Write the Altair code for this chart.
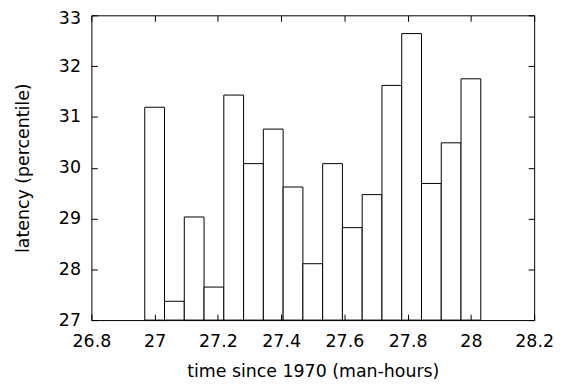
import altair as alt
import pandas as pd

# Bin centres (time since 1970, man-hours) and bar heights (latency percentile)
x_centers = [27.0, 27.0625, 27.125, 27.1875, 27.25, 27.3125, 27.375, 27.4375,
             27.5, 27.5625, 27.625, 27.6875, 27.75, 27.8125, 27.875, 27.9375, 28.0]
latency = [31.19, 27.37, 29.03, 27.65, 31.43, 30.08, 30.76, 29.62,
           28.11, 30.08, 28.82, 29.47, 31.62, 32.64, 29.69, 30.49, 31.75]
box_width = 0.0625

x_ticks = [26.8, 27.0, 27.2, 27.4, 27.6, 27.8, 28.0, 28.2]
y_ticks = [27, 28, 29, 30, 31, 32, 33]

df = pd.DataFrame({"x": x_centers, "latency": latency})
df["x0"] = df["x"] - box_width / 2
df["x1"] = df["x"] + box_width / 2

FONT = "DejaVu Sans"
FS = 17.5

x_scale = alt.Scale(domain=[26.8, 28.2], nice=False, zero=False)
y_scale = alt.Scale(domain=[27, 33], nice=False, zero=False)

common = dict(offset=-6, tickSize=6, domain=False, grid=False, zindex=1,
              tickColor="black", tickWidth=1, labelFlush=False)

bars = alt.Chart(df).mark_rect(fill="white", stroke="black", strokeWidth=1).encode(
    x=alt.X("x0:Q", scale=x_scale,
            axis=alt.Axis(orient="bottom", values=x_ticks, format="~g",
                          title="time since 1970 (man-hours)", labelOverlap=False,
                          labelPadding=13, titlePadding=12, **common)),
    x2="x1:Q",
    y=alt.Y("latency:Q", scale=y_scale,
            axis=alt.Axis(orient="left", values=y_ticks, format="d",
                          title="latency (percentile)",
                          labelOffset={"condition": {"test": "datum.value == 33", "value": 3},
                                       "value": 0},
                          labelPadding=11, titlePadding=26, **common)),
    y2=alt.datum(27),
)

mirror = alt.Chart(df).mark_point(opacity=0).encode(
    x=alt.X("x:Q", scale=x_scale,
            axis=alt.Axis(orient="top", values=x_ticks, labels=False, title="", **common)),
    y=alt.Y("latency:Q", scale=y_scale,
            axis=alt.Axis(orient="right", values=y_ticks, labels=False, title="", **common)),
)

chart = alt.layer(bars, mirror).resolve_axis(
    x="independent", y="independent"
).properties(
    width=446, height=307,
    autosize=alt.AutoSizeParams(type="none"),
    padding={"left": 84, "top": 6, "right": 22, "bottom": 62},
    background="white",
).configure_view(
    stroke="black", strokeWidth=1
).configure_axis(
    labelFont=FONT, titleFont=FONT, labelFontSize=FS, titleFontSize=FS,
    titleFontWeight="normal", labelColor="black", titleColor="black",
)

chart.save("out.html", embed_options={"renderer": "svg", "actions": False})
